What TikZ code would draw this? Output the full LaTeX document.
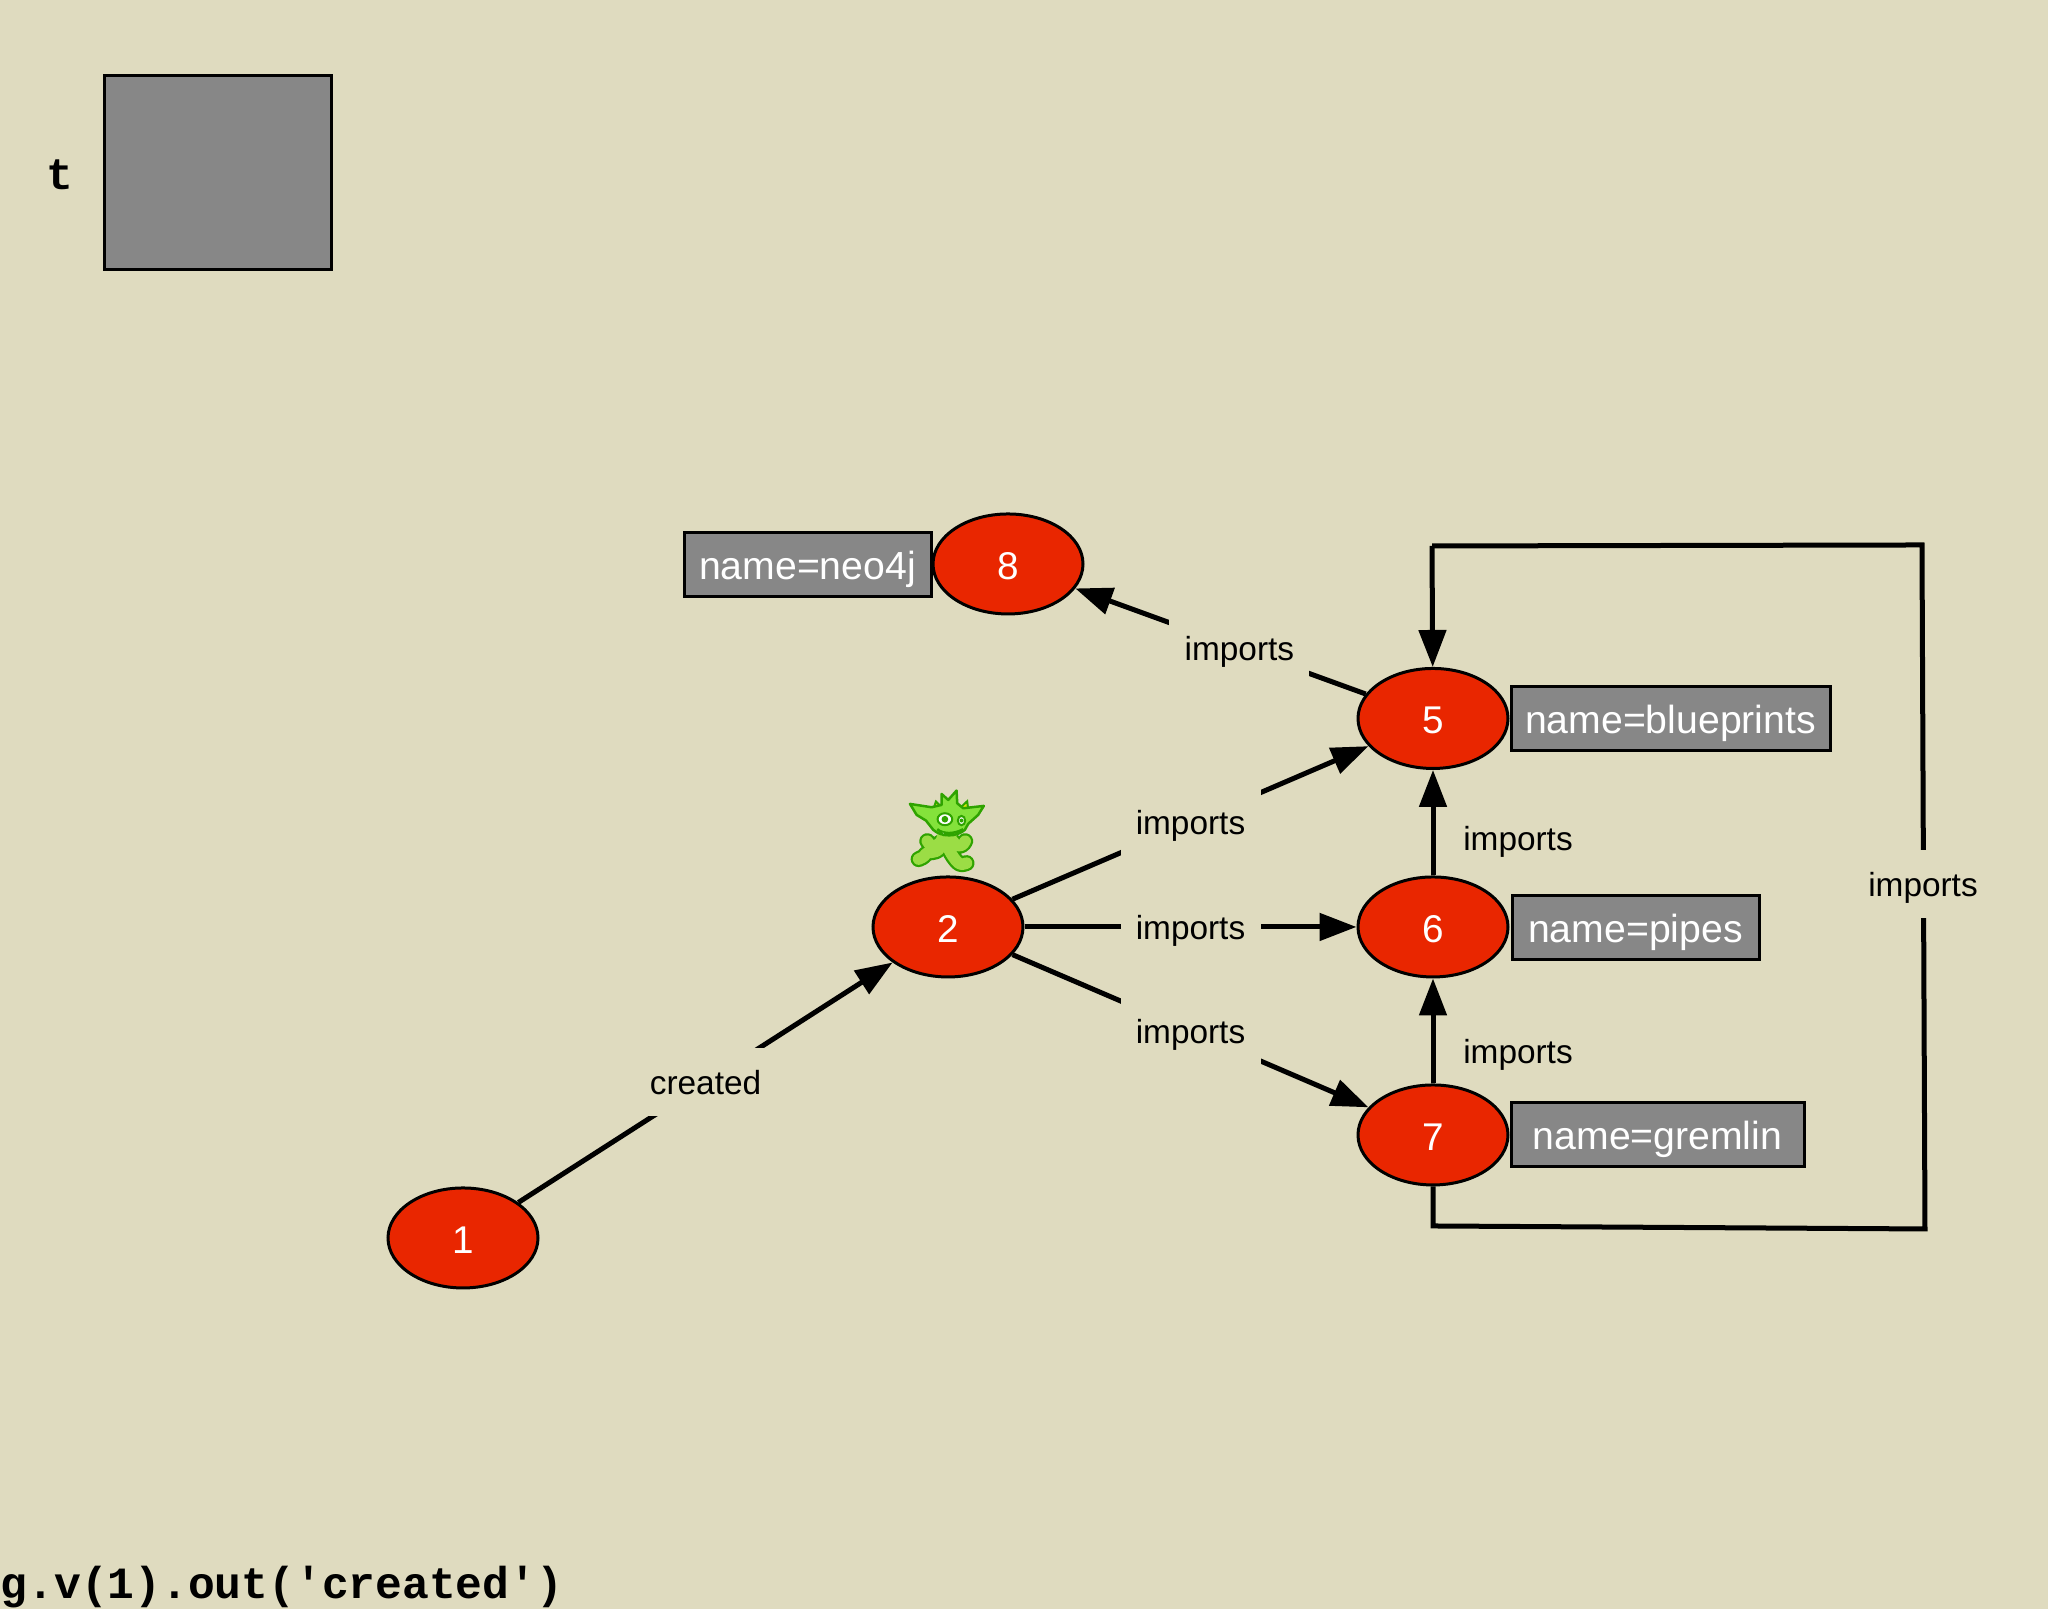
\documentclass[tikz,border=0pt]{standalone}
\usepackage{fontspec}
\setmainfont{Liberation Sans}
\setmonofont{Liberation Mono}
\usetikzlibrary{arrows, arrows.meta}
\usetikzlibrary{shapes}
\definecolor{paper}{HTML}{DFDBBF}
\definecolor{vred}{HTML}{E92600}
\definecolor{pgrey}{HTML}{878787}
\definecolor{gobdark}{HTML}{2FA300}
\definecolor{goblight}{HTML}{9BDD45}
\tikzset{
  vertex/.style={ellipse, draw=black, line width=0.03cm, fill=vred, text=white, inner sep=0pt,
    minimum width=1.5cm, minimum height=1cm, text height=0.31cm, text depth=0cm, font=\fontsize{11}{11}\selectfont},
  prop/.style={rectangle, draw=black, line width=0.03cm, fill=pgrey, text=white, inner sep=0pt,
    minimum height=0.64cm, text height=0.3cm, text depth=0cm, font=\fontsize{11.15}{11.15}\selectfont},
  rel/.style={-{Triangle[length=0.37cm,width=0.27cm]}, line width=0.05cm},
  elabel/.style={fill=paper, inner sep=0pt, minimum width=1.4cm, minimum height=0.68cm,
    text height=0.244cm, text depth=0cm, font=\fontsize{9.5}{9.5}\selectfont},
  sidelabel/.style={inner sep=0pt, text height=0.244cm, text depth=0cm, font=\fontsize{9.5}{9.5}\selectfont},
  code/.style={inner sep=0pt, font=\fontsize{12.7}{12.7}\selectfont\ttfamily\bfseries},
  limb/.style={line cap=round, line join=round}
}

\begin{document}
\begin{tikzpicture}[>=latex]
\useasboundingbox (0,0) rectangle (20.48,16.09);
\fill[paper] (0,0) rectangle (20.48,16.09);

% binding table
\node[draw=black, line width=0.03cm, fill=pgrey, minimum width=2.26cm, minimum height=1.94cm, inner sep=0pt] (tbox) at (2.18,14.36) {};
\node[code, anchor=base] (tname) at (0.60,14.19) {t};
\node[code, anchor=base west] (query) at (0,0.10) {g.v(1).out('created')};

% vertices
\node[vertex] (v1) at (4.63,3.71) {1};
\node[vertex] (v2) at (9.48,6.82) {2};
\node[vertex] (v5) at (14.33,8.905) {5};
\node[vertex] (v6) at (14.33,6.82) {6};
\node[vertex] (v7) at (14.33,4.74) {7};
\node[vertex] (v8) at (10.08,10.45) {8};

% properties
\node[prop, minimum width=2.47cm] (p8) at (8.075,10.44) {name=neo4j};
\node[prop, minimum width=3.19cm] (p5) at (16.705,8.90) {name=blueprints};
\node[prop, minimum width=2.47cm] (p6) at (16.355,6.81) {name=pipes};
\node[prop, minimum width=2.93cm] (p7) at (16.575,4.74) {name=gremlin};

% edges
\draw[rel] (v1) -- node[elabel, pos=0.5] (l12) {created} (v2);
\draw[rel] (v2) -- node[elabel, pos=0.5] (l25) {imports} (v5);
\draw[rel] (v2) -- node[elabel, pos=0.5] (l26) {imports} (v6);
\draw[rel] (v2) -- node[elabel, pos=0.5] (l27) {imports} (v7);
\draw[rel] (v5) -- node[elabel, pos=0.435] (l58) {imports} (v8);
\draw[rel] (v6) -- (v5);
\draw[rel] (v7) -- (v6);
\node[sidelabel] (l65) at (15.18,7.71) {imports};
\node[sidelabel] (l76) at (15.18,5.58) {imports};

% loop from 7 back to 5
\coordinate (c1) at (14.33,3.83);
\coordinate (c2) at (19.25,3.80);
\coordinate (c3) at (19.22,10.64);
\coordinate (c4) at (14.32,10.63);
\draw[line width=0.05cm] (v7) -- (c1) -- (c2) -- (c3) -- (c4);
\draw[rel] (c4) -- (v5);
\node[elabel] (l75) at (19.23,7.25) {imports};

% the gremlin on vertex 2
\begin{scope}[shift={(9.00,8.29)}, x=0.00333cm, y=-0.00333cm]
  % legs and arms
  \foreach \limbw/\limbc in {0.16cm/gobdark, 0.115cm/goblight}{
    \draw[limb, line width=\limbw, color=\limbc] (120,205) .. controls (105,225) and (85,212) .. (78,222) .. controls (72,232) and (62,236) .. (56,238);
    \draw[limb, line width=\limbw, color=\limbc] (145,205) .. controls (155,225) and (165,240) .. (176,250) .. controls (185,256) and (195,252) .. (200,250);
    \draw[limb, line width=\limbw, color=\limbc] (120,188) .. controls (105,205) and (90,200) .. (82,184);
    \draw[limb, line width=\limbw, color=\limbc] (160,185) .. controls (172,205) and (190,200) .. (196,184);
  }
  % hair tufts
  \fill[yellow!85!green, draw=gobdark, line width=0.02cm] (100,88) -- (108,65) -- (125,82) -- cycle;
  \fill[yellow!85!green, draw=gobdark, line width=0.02cm] (180,85) -- (202,64) -- (205,88) -- cycle;
  % body and head
  \fill[goblight, line join=round] (116,150) -- (100,208) -- (155,214) -- (176,150) -- cycle;
  \fill[goblight!85!green, draw=gobdark, line width=0.025cm, line join=round] (30,72) -- (95,82) -- (125,75) -- (125,42) -- (145,60) -- (170,32) -- (172,70) -- (190,85) -- (252,78) -- (235,105) -- (205,132) -- (195,150) .. controls (170,172) and (125,172) .. (100,150) -- (78,122) -- (50,105) -- cycle;
  % eyes
  \fill[white, draw=gobdark, line width=0.02cm] (135,118) ellipse (22 and 18);
  \fill[gobdark] (135,118) circle (10);
  \fill[white, draw=gobdark, line width=0.02cm] (185,122) ellipse (11 and 14);
  \fill[gobdark] (185,122) circle (6);
  % mouth
  \draw[gobdark, line width=0.025cm] (112,148) .. controls (130,165) and (165,162) .. (190,148);
  \fill[white, draw=gobdark, line width=0.015cm] (122,154) -- (130,166) -- (136,158) -- cycle;
\end{scope}
\end{tikzpicture}
\end{document}
